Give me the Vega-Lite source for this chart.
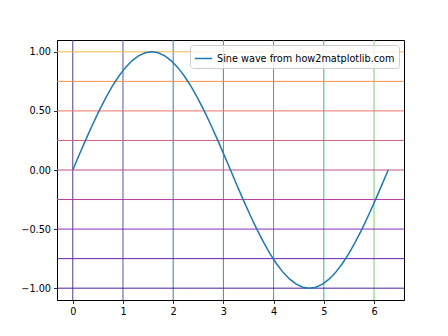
{
  "$schema": "https://vega.github.io/schema/vega-lite/v6.json",
  "width": 347,
  "height": 260,
  "autosize": "none",
  "padding": {"left": 57, "top": 40, "right": 44, "bottom": 36},
  "config": {
    "font": "DejaVu Sans",
    "view": {"stroke": "#000000", "strokeWidth": 1},
    "axis": {
      "labelFont": "DejaVu Sans", "labelFontSize": 9.7, "labelColor": "#000000",
      "tickColor": "#000000", "tickSize": 3.5, "tickWidth": 0.8,
      "domainColor": "#000000", "domainWidth": 1, "grid": false, "labelPadding": 3, "title": null
    }
  },
  "datasets": {
    "sine": [
      {"x": 0, "y": 0}, {"x": 0.131, "y": 0.1305}, {"x": 0.262, "y": 0.2588}, {"x": 0.393, "y": 0.3827},
      {"x": 0.524, "y": 0.5}, {"x": 0.654, "y": 0.6088}, {"x": 0.785, "y": 0.7071}, {"x": 0.916, "y": 0.7934},
      {"x": 1.047, "y": 0.866}, {"x": 1.178, "y": 0.9239}, {"x": 1.309, "y": 0.9659}, {"x": 1.44, "y": 0.9914},
      {"x": 1.571, "y": 1}, {"x": 1.702, "y": 0.9914}, {"x": 1.833, "y": 0.9659}, {"x": 1.963, "y": 0.9239},
      {"x": 2.094, "y": 0.866}, {"x": 2.225, "y": 0.7934}, {"x": 2.356, "y": 0.7071}, {"x": 2.487, "y": 0.6088},
      {"x": 2.618, "y": 0.5}, {"x": 2.749, "y": 0.3827}, {"x": 2.88, "y": 0.2588}, {"x": 3.011, "y": 0.1305},
      {"x": 3.142, "y": 0}, {"x": 3.272, "y": -0.1305}, {"x": 3.403, "y": -0.2588}, {"x": 3.534, "y": -0.3827},
      {"x": 3.665, "y": -0.5}, {"x": 3.796, "y": -0.6088}, {"x": 3.927, "y": -0.7071}, {"x": 4.058, "y": -0.7934},
      {"x": 4.189, "y": -0.866}, {"x": 4.32, "y": -0.9239}, {"x": 4.451, "y": -0.9659}, {"x": 4.581, "y": -0.9914},
      {"x": 4.712, "y": -1}, {"x": 4.843, "y": -0.9914}, {"x": 4.974, "y": -0.9659}, {"x": 5.105, "y": -0.9239},
      {"x": 5.236, "y": -0.866}, {"x": 5.367, "y": -0.7934}, {"x": 5.498, "y": -0.7071}, {"x": 5.629, "y": -0.6088},
      {"x": 5.76, "y": -0.5}, {"x": 5.89, "y": -0.3827}, {"x": 6.021, "y": -0.2588}, {"x": 6.152, "y": -0.1305},
      {"x": 6.283, "y": 0}
    ],
    "vgrid": [{"gx": 0}, {"gx": 1}, {"gx": 2}, {"gx": 3}, {"gx": 4}, {"gx": 5}, {"gx": 6}],
    "hgrid": [{"gy": -1}, {"gy": -0.75}, {"gy": -0.5}, {"gy": -0.25}, {"gy": 0}, {"gy": 0.25}, {"gy": 0.5}, {"gy": 0.75}, {"gy": 1}]
  },
  "layer": [
    {
      "data": {"name": "vgrid"},
      "mark": {"type": "rule", "strokeWidth": 1, "opacity": 1},
      "encoding": {
        "x": {"field": "gx", "type": "quantitative", "scale": {"domain": [-0.314, 6.597], "nice": false, "zero": false}},
        "color": {"field": "gx", "type": "quantitative", "legend": null,
          "scale": {"type": "linear", "domain": [0, 1, 2, 3, 4, 5, 6], "range": ["#5a3a90", "#4a5aa0", "#3a7aa8", "#2a98a0", "#30a890", "#40b878", "#78d068"], "interpolate": "rgb"}}
      }
    },
    {
      "data": {"name": "hgrid"},
      "mark": {"type": "rule", "strokeWidth": 1, "opacity": 1},
      "encoding": {
        "y": {"field": "gy", "type": "quantitative", "scale": {"domain": [-1.1, 1.1], "nice": false, "zero": false}},
        "color": {"field": "gy", "type": "quantitative", "legend": null,
          "scale": {"type": "linear", "domain": [-1, -0.75, -0.5, -0.25, 0, 0.25, 0.5, 0.75, 1], "range": ["#4a1fa0", "#6a1fb0", "#8c2bb0", "#b23aa8", "#c0508f", "#d0607a", "#f07068", "#f8904c", "#f8b848"], "interpolate": "rgb"}}
      }
    },
    {
      "data": {"name": "sine"},
      "mark": {"type": "line", "strokeWidth": 1.5},
      "encoding": {
        "x": {"field": "x", "type": "quantitative",
          "axis": {"values": [0, 1, 2, 3, 4, 5, 6], "format": "d"}},
        "y": {"field": "y", "type": "quantitative",
          "axis": {"values": [-1, -0.75, -0.5, -0.25, 0, 0.25, 0.5, 0.75, 1], "format": ".2f"}},
        "color": {"datum": "Sine wave from how2matplotlib.com", "type": "nominal",
          "scale": {"range": ["#1f77b4"]},
          "legend": {
            "title": null, "orient": "top-right", "offset": 5,
            "symbolType": "stroke", "symbolSize": 300, "symbolStrokeWidth": 1.5,
            "labelFont": "DejaVu Sans", "labelFontSize": 9.7, "labelColor": "#000000", "labelLimit": 400,
            "fillColor": "rgba(255,255,255,0.8)", "strokeColor": "#cccccc", "cornerRadius": 3,
            "padding": 4
          }
        }
      }
    }
  ],
  "resolve": {"scale": {"color": "independent"}}
}
